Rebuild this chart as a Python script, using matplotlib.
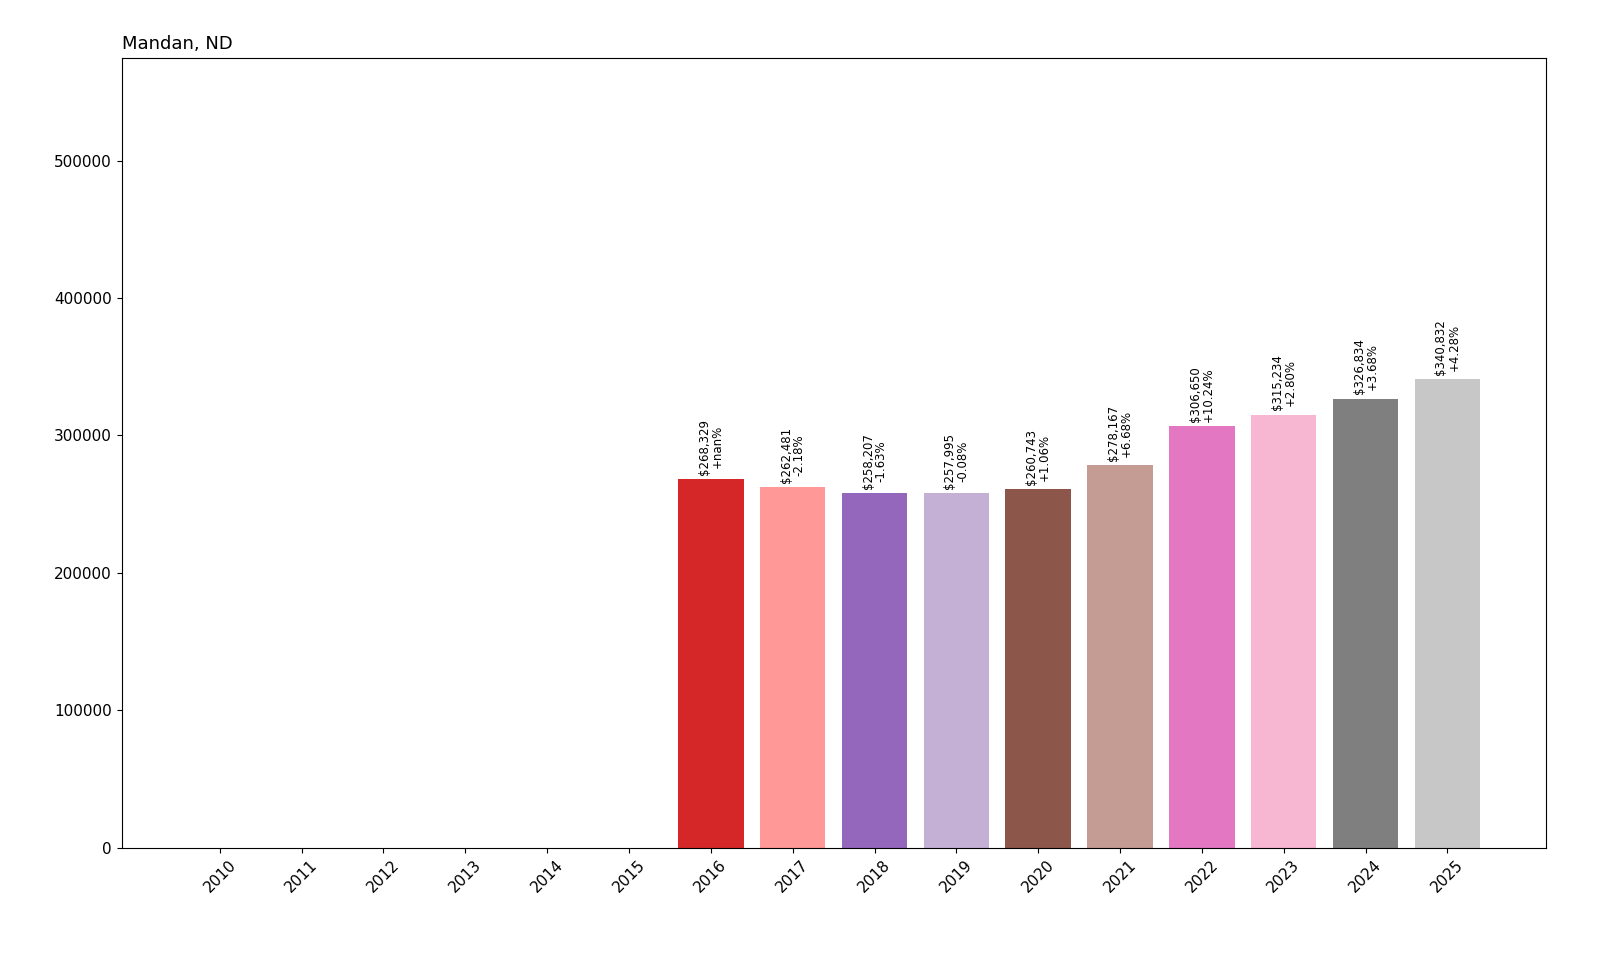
import matplotlib
matplotlib.use("Agg")
import matplotlib.pyplot as plt
import numpy as np

years = [str(y) for y in range(2010, 2026)]
values = [0, 0, 0, 0, 0, 0, 268329, 262481, 258207, 257995, 260743, 278167, 306650, 315234, 326834, 340832]
changes = ["", "", "", "", "", "", "+nan%", "-2.18%", "-1.63%", "-0.08%", "+1.06%", "+6.68%", "+10.24%", "+2.80%", "+3.68%", "+4.28%"]

fig = plt.figure(figsize=(16, 9.6), dpi=100)
ax = fig.add_axes([0.076, 0.117, 0.89, 0.823])
colors = plt.cm.tab20(np.arange(len(years)) % 20)
x = np.arange(len(years))
bars = ax.bar(x, values, color=colors, width=0.8)
for xi, v, c in zip(x, values, changes):
    if v > 0:
        ax.text(xi, v + 3000, f"${v:,}\n{c}", rotation=90, ha="center", va="bottom", fontsize=8.5, linespacing=1.0)
ax.set_xticks(x)
ax.set_xticklabels(years, rotation=45, fontsize=11)
ax.tick_params(axis="y", labelsize=11)
ax.set_ylim(0, 575000)
ax.set_xlim(-1.2, 16.2)
ax.set_title("Mandan, ND", loc="left", fontsize=13)
fig.savefig("out.png")
